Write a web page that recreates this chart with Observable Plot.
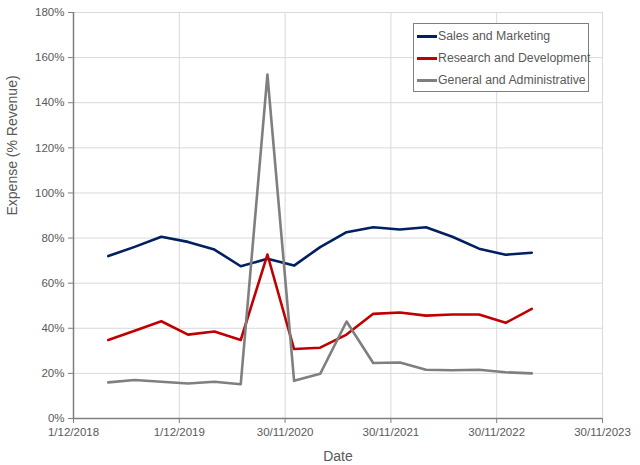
<!DOCTYPE html>
<html><head><meta charset="utf-8">
<script src="https://cdn.jsdelivr.net/npm/d3@7"></script>
<script src="https://cdn.jsdelivr.net/npm/@observablehq/plot@0.6"></script>
<style>
body{margin:0;background:#fff;}
#wrap{position:relative;width:640px;height:465px;font-family:"Liberation Sans",Arial,sans-serif;}
#legend{position:absolute;left:413px;top:23px;width:176px;height:69px;box-sizing:border-box;border:1.5px solid #7f7f7f;background:#fff;font-size:12.3px;color:#595959;padding-top:1px;}
#legend .row{display:flex;align-items:center;height:22px;padding-left:3px;white-space:nowrap;}
#legend .sw{width:20px;height:3px;margin-right:1px;flex:none;}
</style></head>
<body><div id="wrap"><div id="chart"></div><div id="legend"></div></div>
<script>
const dates = ["31/03/2019","30/06/2019","30/09/2019","31/12/2019","31/03/2020","30/06/2020","30/09/2020","31/12/2020","31/03/2021","30/06/2021","30/09/2021","31/12/2021","31/03/2022","30/06/2022","30/09/2022","31/12/2022","31/03/2023"];
const seriesNames = ["Sales and Marketing","Research and Development","General and Administrative"];
const seriesColors = ["#002060","#C00000","#7F7F7F"];
const salesMarketing = [72.0,76.1,80.6,78.3,74.9,67.5,70.8,67.8,76.0,82.6,84.8,83.8,84.8,80.6,75.3,72.6,73.5];
const researchDev = [34.8,38.9,43.1,37.2,38.6,34.8,72.7,30.8,31.4,37.2,46.4,47.0,45.6,46.1,46.1,42.4,48.6];
const generalAdmin = [16.0,17.1,16.3,15.5,16.3,15.2,152.5,16.7,19.8,43.0,24.6,24.8,21.6,21.4,21.6,20.5,20.0];
const xTickLabels = ["1/12/2018","1/12/2019","30/11/2020","30/11/2021","30/11/2022","30/11/2023"];
const yTicks = [0,20,40,60,80,100,120,140,160,180];

const parse = d3.utcParse("%d/%m/%Y");
const xTicks = xTickLabels.map(parse);
const allValues = [salesMarketing, researchDev, generalAdmin];
const data = [];
seriesNames.forEach((name, i) => {
  dates.forEach((d, j) => data.push({series: name, date: parse(d), value: allValues[i][j] / 100}));
});
const fmtLabel = new Map(xTicks.map((t, i) => [+t, xTickLabels[i]]));

const chart = Plot.plot({
  width: 640, height: 465,
  marginLeft: 73, marginRight: 38, marginTop: 12, marginBottom: 47,
  style: {fontFamily: '"Liberation Sans", Arial, sans-serif', fontSize: "11.5px", color: "#595959", background: "#fff"},
  x: {type: "utc", domain: [xTicks[0], xTicks[xTicks.length - 1]]},
  y: {domain: [0, 1.8]},
  color: {domain: seriesNames, range: seriesColors},
  marks: [
    Plot.gridX(xTicks, {stroke: "#d9d9d9", strokeOpacity: 1}),
    Plot.gridY(yTicks.map(v => v / 100), {stroke: "#d9d9d9", strokeOpacity: 1}),
    Plot.ruleX([xTicks[0]], {stroke: "#7f7f7f", strokeWidth: 1.5}),
    Plot.ruleY([0], {stroke: "#7f7f7f", strokeWidth: 1.5}),
    Plot.axisX(xTicks, {tickSize: 5, stroke: "#7f7f7f", tickPadding: 4, tickFormat: d => fmtLabel.get(+d), label: null, fill: "#595959"}),
    Plot.axisY(yTicks.map(v => v / 100), {tickSize: 5, stroke: "#7f7f7f", tickPadding: 4, tickFormat: d => Math.round(d * 100) + "%", label: null, fill: "#595959"}),
    Plot.line(data, {x: "date", y: "value", stroke: "series", strokeWidth: 2.6, strokeLinejoin: "round", strokeLinecap: "round"}),
    Plot.text(["Date"], {frameAnchor: "bottom", dy: 42, fontSize: 14, fill: "#595959"}),
    Plot.text(["Expense (% Revenue)"], {frameAnchor: "left", dx: -61, rotate: -90, fontSize: 14, fill: "#595959"})
  ]
});
document.getElementById("chart").appendChild(chart);

const legend = document.getElementById("legend");
seriesNames.forEach((name, i) => {
  const row = document.createElement("div");
  row.className = "row";
  const sw = document.createElement("span");
  sw.className = "sw";
  sw.style.background = seriesColors[i];
  const tx = document.createElement("span");
  tx.textContent = name;
  row.appendChild(sw); row.appendChild(tx);
  legend.appendChild(row);
});
</script></body></html>
